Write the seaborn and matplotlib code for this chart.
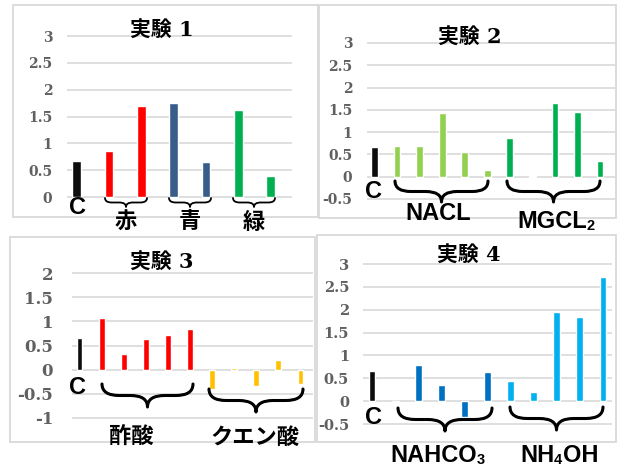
import matplotlib
matplotlib.use("Agg")
import matplotlib.pyplot as plt
import numpy as np
import pandas as pd
import seaborn as sns
from matplotlib.path import Path
from matplotlib.patches import PathPatch, Rectangle

# ---- data -------------------------------------------------------------
exp1_groups = ["C", "赤", "赤", "青", "青", "緑", "緑"]
exp1_values = [0.67, 0.86, 1.69, 1.76, 0.65, 1.62, 0.39]

exp2_groups = ["C"] + ["NACL"] * 5 + ["MGCL2"] * 5
exp2_values = [0.66, 0.70, 0.69, 1.43, 0.55, 0.16, 0.87, 0.02, 1.65, 1.46, 0.35]

exp3_groups = ["C"] + ["酢酸"] * 5 + ["クエン酸"] * 5
exp3_values = [0.65, 1.06, 0.32, 0.63, 0.71, 0.84, -0.40, 0.03, -0.34, 0.21, -0.29]

exp4_groups = ["C"] + ["NAHCO3"] * 5 + ["NH4OH"] * 5
exp4_values = [0.67, -0.02, 0.78, 0.36, -0.34, 0.64, 0.45, 0.19, 1.96, 1.85, 2.72]

exp1_ticks = [0, 0.5, 1, 1.5, 2, 2.5, 3]
exp2_ticks = [-0.5, 0, 0.5, 1, 1.5, 2, 2.5, 3]
exp3_ticks = [-1, -0.5, 0, 0.5, 1, 1.5, 2]
exp4_ticks = [-0.5, 0, 0.5, 1, 1.5, 2, 2.5, 3]

group_colors = {
    "C": "#0D0D0D",
    "赤": "#FF0000", "青": "#385D8A", "緑": "#00B050",
    "NACL": "#92D050", "MGCL2": "#00B050",
    "酢酸": "#FF0000", "クエン酸": "#FFC000",
    "NAHCO3": "#0070C0", "NH4OH": "#00B0F0",
}

# ---- figure -----------------------------------------------------------
W, H = 617, 466
sns.set_style("white")
plt.rcParams["font.family"] = ["DejaVu Sans", "Noto Sans CJK JP"]
fig = plt.figure(figsize=(W / 100, H / 100), dpi=100)

GRID = "#D9D9D9"
TICK = "#606060"
SANS = ["Liberation Sans", "DejaVu Sans"]
CJK = ["Noto Sans CJK JP", "DejaVu Sans"]
TITLE = ["DejaVu Serif", "Noto Sans CJK JP"]


def panel(groups, values, ticks, x_px, first_c, last_c, y_hi_px, y_lo_px,
          bar_w, tick_size, tick_pad):
    """Bar panel placed in pixel space; x span and tick rows given in px."""
    n = len(values)
    lo, hi = ticks[0], ticks[-1]
    ppu = (y_lo_px - y_hi_px) / (hi - lo)
    ymin, ymax = lo - 0.04, hi + 0.04
    top_px = y_hi_px - (ymax - hi) * ppu
    bot_px = y_lo_px + (lo - ymin) * ppu
    x0, x1 = x_px
    ax = fig.add_axes([x0 / W, 1 - bot_px / H, (x1 - x0) / W, (bot_px - top_px) / H])
    df = pd.DataFrame({"pos": np.arange(n), "value": values, "group": groups})
    sns.barplot(data=df, x="pos", y="value", hue="group", palette=group_colors,
                dodge=False, legend=False, width=bar_w, saturation=1, ax=ax)
    step = (last_c - first_c) / (n - 1)
    ax.set_xlim(-(first_c - x0) / step, (n - 1) + (x1 - last_c) / step)
    ax.set_ylim(ymin, ymax)
    ax.set_yticks(ticks)
    ax.set_yticklabels([f"{t:g}" for t in ticks], family="DejaVu Serif",
                       fontweight="bold", fontsize=tick_size, color=TICK)
    ax.set_xticks([])
    ax.set_xlabel("")
    ax.set_ylabel("")
    ax.tick_params(axis="y", length=0, pad=tick_pad)
    ax.yaxis.grid(True, color=GRID, linewidth=1.2)
    ax.set_axisbelow(True)
    for s in ax.spines.values():
        s.set_visible(False)
    ax.patch.set_alpha(0)
    return ax


panel(exp1_groups, exp1_values, exp1_ticks, (67, 292), 76.7, 270.7, 36, 197, 0.27, 10, 10.5)
panel(exp2_groups, exp2_values, exp2_ticks, (367, 615), 374.5, 600, 43, 199, 0.30, 10, 10.5)
panel(exp3_groups, exp3_values, exp3_ticks, (72, 313), 79.5, 300.5, 273, 418, 0.27, 12, 13.5)
panel(exp4_groups, exp4_values, exp4_ticks, (363, 612), 372, 603, 264, 424, 0.30, 10.5, 10)

# ---- overlay in pixel coordinates: frames, titles, labels, braces -------
ov = fig.add_axes([0, 0, 1, 1])
ov.set_xlim(0, W)
ov.set_ylim(H, 0)
ov.axis("off")
ov.patch.set_alpha(0)

for (fx0, fy0, fx1, fy1) in [(13, 5, 318, 217), (319, 5, 616, 218),
                              (10, 237, 315, 442), (317, 235, 616, 442)]:
    ov.add_patch(Rectangle((fx0, fy0), fx1 - fx0, fy1 - fy0, fill=False,
                           edgecolor=GRID, linewidth=1.3))


def brace(x0, x1, y0, h, lw):
    xm = (x0 + x1) / 2
    ym = y0 + h / 2
    q = min(h * 0.75, (x1 - x0) / 4)
    verts = [(x0, y0), (x0, ym), (x0 + q, ym),
             (xm - q, ym),
             (xm, ym), (xm, y0 + h),
             (xm, ym), (xm + q, ym),
             (x1 - q, ym),
             (x1, ym), (x1, y0)]
    codes = [Path.MOVETO, Path.CURVE3, Path.CURVE3,
             Path.LINETO,
             Path.CURVE3, Path.CURVE3,
             Path.CURVE3, Path.CURVE3,
             Path.LINETO,
             Path.CURVE3, Path.CURVE3]
    ov.add_patch(PathPatch(Path(verts, codes), fill=False, edgecolor="black",
                           linewidth=lw, capstyle="round", joinstyle="round"))


def title(x, y, s):
    ov.text(x, y, s, ha="center", va="center", fontsize=15, fontweight="bold",
            family=TITLE, color="black")


def label(x, y, s, size=17, fam=SANS):
    return ov.text(x, y, s, ha="center", va="center", fontsize=size,
                   fontweight="bold", family=fam, color="black")


def chem(x, y, parts, size=17):
    """Formula text with smaller subscript digits, left edge at x, baseline y."""
    prev = None
    for part, sub in parts:
        fs = size * 0.62 if sub else size
        if prev is None:
            prev = ov.text(x, y, part, ha="left", va="baseline", fontsize=fs,
                           fontweight="bold", family=SANS, color="black")
        else:
            prev = ov.annotate(part, xy=(1, 0), xycoords=prev, ha="left",
                               va="bottom", fontsize=fs, fontweight="bold",
                               family=SANS, color="black")


# 実験 1
title(162, 30, "実験 1")
label(77, 208, "C")
brace(105, 147, 198, 9, 1.3)
brace(169, 211, 198, 9, 1.3)
brace(233, 275, 198, 9, 1.3)
label(126, 222, "赤", 16, CJK)
label(190, 222, "青", 16, CJK)
label(254, 222, "緑", 16, CJK)

# 実験 2
title(470, 37, "実験 2")
label(373, 192, "C")
brace(395, 488, 181, 21, 2.2)
brace(507, 600, 181, 21, 2.2)
label(438, 213, "NACL")
chem(517, 228, [("MGCL", False), ("2", True)])

# 実験 3
title(162, 262, "実験 3")
label(78, 387, "C")
brace(102, 193, 384, 23, 2.2)
brace(209, 303, 389, 23, 2.2)
label(131, 437, "酢酸", 16, CJK)
label(255, 437, "クエン酸", 16, CJK)

# 実験 4
title(469, 255, "実験 4")
label(373, 418, "C")
brace(398, 492, 408, 23, 2.2)
brace(510, 603, 407, 23, 2.2)
chem(390, 462, [("NAHCO", False), ("3", True)])
chem(520, 462, [("NH", False), ("4", True), ("OH", False)])

fig.savefig("out.png", dpi=100)
